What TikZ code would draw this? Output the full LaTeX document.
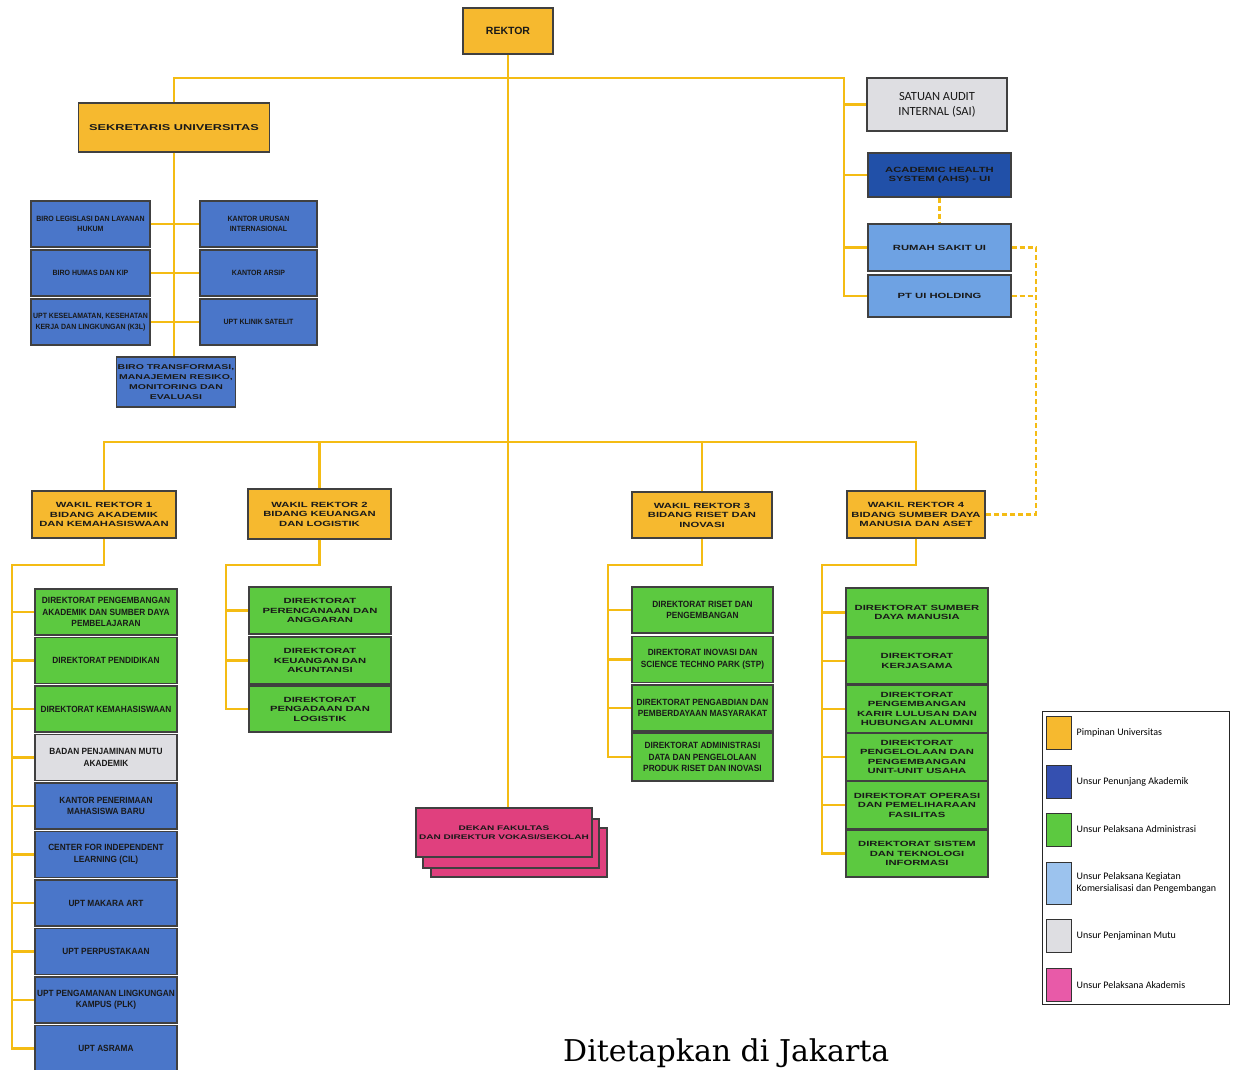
\documentclass[tikz,border=0pt]{standalone}
\usepackage{fontspec}
\usepackage{tikz}
\usetikzlibrary{positioning}
\setmainfont{Liberation Sans}
\newfontfamily\widefont[FakeStretch=1.5]{Liberation Sans}
\newfontfamily\narrowfont[FakeStretch=0.92]{Liberation Sans}
\newfontfamily\calfont{Carlito}
\newfontfamily\footfont{DejaVu Serif}
\definecolor{pimpinan}{HTML}{F6B92F}
\definecolor{penunjang}{HTML}{4A76C9}
\definecolor{ahsblue}{HTML}{2150A8}
\definecolor{pelaksana}{HTML}{5CC940}
\definecolor{komersial}{HTML}{6EA2E3}
\definecolor{mutu}{HTML}{DEDEE2}
\definecolor{akademis}{HTML}{E0407E}
\definecolor{garis}{HTML}{F4BC14}
\definecolor{legblue}{HTML}{3550B0}
\definecolor{legkom}{HTML}{9CC3EE}
\definecolor{legpink}{HTML}{E85AA8}

\begin{document}
\begin{tikzpicture}[x=1pt, y=-1pt,
    box/.style={rectangle, draw=black!75, line width=1.1pt, inner sep=1pt, align=center, text=black!90},
    widebox/.style={box, font=\widefont\bfseries\fontsize{7.5}{9.5}\selectfont},
    narrowbox/.style={box, font=\narrowfont\bfseries\fontsize{9}{11.5}\selectfont},
    birobox/.style={box, fill=penunjang, minimum width=119pt, minimum height=46pt, font=\narrowfont\bfseries\fontsize{7.6}{10.5}\selectfont},
    wakil/.style={widebox, fill=pimpinan, minimum height=47pt},
    dirbox/.style={minimum width=142pt, minimum height=46pt},
    link/.style={draw=garis, line width=2.3pt},
    dashline/.style={draw=garis, line width=2.3pt, dash pattern=on 5pt off 3pt},
    swatch/.style={rectangle, draw=black!80, line width=1pt, minimum width=25pt, minimum height=33pt, inner sep=0pt},
    legtext/.style={font=\calfont\fontsize{10}{12}\selectfont, align=left, inner sep=0pt}
]
\fill[white] (0,0) rectangle (1236,1070);
\useasboundingbox (0,0) rectangle (1236,1070);

\node[box, fill=pimpinan, minimum width=90pt, minimum height=46pt, font=\bfseries\fontsize{10.5}{12}\selectfont] (rektor) at (508,31) {REKTOR};
\node[widebox, fill=pimpinan, minimum width=191pt, minimum height=49pt, font=\widefont\bfseries\fontsize{8.5}{10}\selectfont] (sekre) at (174,127.5) {SEKRETARIS UNIVERSITAS};

\node[box, fill=mutu, minimum width=140pt, minimum height=53pt, font=\calfont\fontsize{12.5}{15}\selectfont] (sai) at (937,104.5) {SATUAN AUDIT\\INTERNAL (SAI)};
\node[widebox, fill=ahsblue, minimum width=143pt, minimum height=44pt] (ahs) at (939.5,175) {ACADEMIC HEALTH\\SYSTEM (AHS) - UI};
\node[widebox, fill=komersial, minimum width=143pt, minimum height=47pt] (rsui) at (939.5,247.5) {RUMAH SAKIT UI};
\node[widebox, fill=komersial, minimum width=143pt, minimum height=42pt] (ptui) at (939.5,296) {PT UI HOLDING};

\node[birobox] (hukum) at (90.5,224) {BIRO LEGISLASI DAN LAYANAN\\HUKUM};
\node[birobox] (humas) at (90.5,273) {BIRO HUMAS DAN KIP};
\node[birobox] (k3l) at (90.5,322) {UPT KESELAMATAN, KESEHATAN\\KERJA DAN LINGKUNGAN (K3L)};
\node[birobox, minimum width=117pt] (kui) at (258.5,224) {KANTOR URUSAN\\INTERNASIONAL};
\node[birobox, minimum width=117pt] (arsip) at (258.5,273) {KANTOR ARSIP};
\node[birobox, minimum width=117pt] (klinik) at (258.5,322) {UPT KLINIK SATELIT};
\node[widebox, fill=penunjang, minimum width=118pt, minimum height=50pt, font=\widefont\bfseries\fontsize{7}{10}\selectfont] (transformasi) at (176,382) {BIRO TRANSFORMASI,\\MANAJEMEN RESIKO,\\MONITORING DAN\\EVALUASI};

\node[wakil, minimum width=144pt] (wr1) at (104,514.5) {WAKIL REKTOR 1\\BIDANG AKADEMIK\\DAN KEMAHASISWAAN};
\node[wakil, minimum width=143pt, minimum height=50pt] (wr2) at (319.5,514) {WAKIL REKTOR 2\\BIDANG KEUANGAN\\DAN LOGISTIK};
\node[wakil, minimum width=140pt, minimum height=46pt] (wr3) at (702,515) {WAKIL REKTOR 3\\BIDANG RISET DAN\\INOVASI};
\node[wakil, minimum width=138pt] (wr4) at (916,514.5) {WAKIL REKTOR 4\\BIDANG SUMBER DAYA\\MANUSIA DAN ASET};

\node[narrowbox, dirbox, fill=pelaksana] (d1a) at (106,612) {DIREKTORAT PENGEMBANGAN\\AKADEMIK DAN SUMBER DAYA\\PEMBELAJARAN};
\node[narrowbox, dirbox, fill=pelaksana] (d1b) at (106,660.5) {DIREKTORAT PENDIDIKAN};
\node[narrowbox, dirbox, fill=pelaksana] (d1c) at (106,709) {DIREKTORAT KEMAHASISWAAN};
\node[narrowbox, dirbox, fill=mutu] (d1d) at (106,757.5) {BADAN PENJAMINAN MUTU\\AKADEMIK};
\node[narrowbox, dirbox, fill=penunjang] (d1e) at (106,806) {KANTOR PENERIMAAN\\MAHASISWA BARU};
\node[narrowbox, dirbox, fill=penunjang] (d1f) at (106,854.5) {CENTER FOR INDEPENDENT\\LEARNING (CIL)};
\node[narrowbox, dirbox, fill=penunjang] (d1g) at (106,903) {UPT MAKARA ART};
\node[narrowbox, dirbox, fill=penunjang] (d1h) at (106,951.5) {UPT PERPUSTAKAAN};
\node[narrowbox, dirbox, fill=penunjang] (d1i) at (106,1000) {UPT PENGAMANAN LINGKUNGAN\\KAMPUS (PLK)};
\node[narrowbox, dirbox, fill=penunjang] (d1j) at (106,1048.5) {UPT ASRAMA};

\node[widebox, dirbox, fill=pelaksana, minimum height=47pt] (d2a) at (320,610.5) {DIREKTORAT\\PERENCANAAN DAN\\ANGGARAN};
\node[widebox, dirbox, fill=pelaksana, minimum height=47pt] (d2b) at (320,660.5) {DIREKTORAT\\KEUANGAN DAN\\AKUNTANSI};
\node[widebox, dirbox, fill=pelaksana] (d2c) at (320,709) {DIREKTORAT\\PENGADAAN DAN\\LOGISTIK};

\node[narrowbox, dirbox, fill=pelaksana, minimum width=141pt] (d3a) at (702.5,610) {DIREKTORAT RISET DAN\\PENGEMBANGAN};
\node[narrowbox, dirbox, fill=pelaksana, minimum width=141pt] (d3b) at (702.5,659.5) {DIREKTORAT INOVASI DAN\\SCIENCE TECHNO PARK (STP)};
\node[narrowbox, dirbox, fill=pelaksana, minimum width=141pt] (d3c) at (702.5,708) {DIREKTORAT PENGABDIAN DAN\\PEMBERDAYAAN MASYARAKAT};
\node[narrowbox, dirbox, fill=pelaksana, minimum width=141pt, minimum height=48pt] (d3d) at (702.5,757) {DIREKTORAT ADMINISTRASI\\DATA DAN PENGELOLAAN\\PRODUK RISET DAN INOVASI};

\node[widebox, dirbox, fill=pelaksana, minimum height=49pt] (d4a) at (917,612.5) {DIREKTORAT SUMBER\\DAYA MANUSIA};
\node[widebox, dirbox, fill=pelaksana] (d4b) at (917,661) {DIREKTORAT\\KERJASAMA};
\node[widebox, dirbox, fill=pelaksana, minimum height=47pt] (d4c) at (917,709) {DIREKTORAT\\PENGEMBANGAN\\KARIR LULUSAN DAN\\HUBUNGAN ALUMNI};
\node[widebox, dirbox, fill=pelaksana, minimum height=47pt] (d4d) at (917,757) {DIREKTORAT\\PENGELOLAAN DAN\\PENGEMBANGAN\\UNIT-UNIT USAHA};
\node[widebox, dirbox, fill=pelaksana, minimum height=47pt] (d4e) at (917,805) {DIREKTORAT OPERASI\\DAN PEMELIHARAAN\\FASILITAS};
\node[widebox, dirbox, fill=pelaksana, minimum height=47pt] (d4f) at (917,853.5) {DIREKTORAT SISTEM\\DAN TEKNOLOGI\\INFORMASI};

\node[box, fill=akademis, minimum width=176pt, minimum height=49pt] (dekanC) at (519,852.5) {};
\node[box, fill=akademis, minimum width=176pt, minimum height=49pt] (dekanB) at (511,843.5) {};
\node[widebox, fill=akademis, minimum width=176pt, minimum height=49pt, font=\widefont\bfseries\fontsize{6.7}{8.7}\selectfont] (dekan) at (504,832.5) {DEKAN FAKULTAS\\DAN DIREKTUR VOKASI/SEKOLAH};

\node[draw=black!85, line width=1pt, minimum width=187pt, minimum height=293pt] (legend) at (1135.5,857.5) {};
\node[swatch, fill=pimpinan] (leg1) at (1058.5,732.5) {};
\node[swatch, fill=legblue] (leg2) at (1058.5,781.5) {};
\node[swatch, fill=pelaksana] (leg3) at (1058.5,829.5) {};
\node[swatch, fill=legkom, minimum height=42pt] (leg4) at (1058.5,883) {};
\node[swatch, fill=mutu] (leg5) at (1058.5,936) {};
\node[swatch, fill=legpink] (leg6) at (1058.5,985) {};
\node[legtext, right=5pt of leg1] (leg1t) {Pimpinan Universitas};
\node[legtext, right=5pt of leg2] (leg2t) {Unsur Penunjang Akademik};
\node[legtext, right=5pt of leg3] (leg3t) {Unsur Pelaksana Administrasi};
\node[legtext, right=5pt of leg4] (leg4t) {Unsur Pelaksana Kegiatan\\Komersialisasi dan Pengembangan};
\node[legtext, right=5pt of leg5] (leg5t) {Unsur Penjaminan Mutu};
\node[legtext, right=5pt of leg6] (leg6t) {Unsur Pelaksana Akademis};

\node[anchor=base west, inner sep=0pt, font=\footfont\fontsize{30}{36}\selectfont] (tempat) at (563,1061) {Ditetapkan di Jakarta};

\coordinate (rbus) at (844,78);
\coordinate (wbus) at (508,442);
\coordinate (w1bus) at (12,565);
\coordinate (w2bus) at (226,565);
\coordinate (w3bus) at (608,565);
\coordinate (w4bus) at (822,565);
\coordinate (dbus) at (1036,247.5);

\draw[link] (rektor.south) -- (rektor.south |- dekan.north);
\draw[link] (sekre.north) |- (rbus) |- (ptui.west);
\draw[link] (rbus |- sai.west) -- (sai.west) (rbus |- ahs.west) -- (ahs.west) (rbus |- rsui.west) -- (rsui.west);
\draw[link] (sekre.south) -- (sekre.south |- transformasi.north);
\draw[link] (hukum.east) -- (kui.west) (humas.east) -- (arsip.west) (k3l.east) -- (klinik.west);
\draw[link] (wr1.north) |- (wbus) -| (wr4.north);
\draw[link] (wr2.north) -- (wr2.north |- wbus) (wr3.north) -- (wr3.north |- wbus);

\draw[link] (wr1.south) |- (w1bus) |- (d1j.west);
\draw[link] (w1bus |- d1a.west) -- (d1a.west) (w1bus |- d1b.west) -- (d1b.west) (w1bus |- d1c.west) -- (d1c.west)
  (w1bus |- d1d.west) -- (d1d.west) (w1bus |- d1e.west) -- (d1e.west) (w1bus |- d1f.west) -- (d1f.west)
  (w1bus |- d1g.west) -- (d1g.west) (w1bus |- d1h.west) -- (d1h.west) (w1bus |- d1i.west) -- (d1i.west);
\draw[link] (wr2.south) |- (w2bus) |- (d2c.west);
\draw[link] (w2bus |- d2a.west) -- (d2a.west) (w2bus |- d2b.west) -- (d2b.west);
\draw[link] (wr3.south) |- (w3bus) |- (d3d.west);
\draw[link] (w3bus |- d3a.west) -- (d3a.west) (w3bus |- d3b.west) -- (d3b.west) (w3bus |- d3c.west) -- (d3c.west);
\draw[link] (wr4.south) |- (w4bus) |- (d4f.west);
\draw[link] (w4bus |- d4a.west) -- (d4a.west) (w4bus |- d4b.west) -- (d4b.west) (w4bus |- d4c.west) -- (d4c.west)
  (w4bus |- d4d.west) -- (d4d.west) (w4bus |- d4e.west) -- (d4e.west);

\draw[dashline] (ahs.south) -- (rsui.north);
\draw[dashline] (rsui.east) -- (dbus) |- (wr4.east);
\draw[dashline] (ptui.east) -- (dbus |- ptui.east);
\end{tikzpicture}
\end{document}
